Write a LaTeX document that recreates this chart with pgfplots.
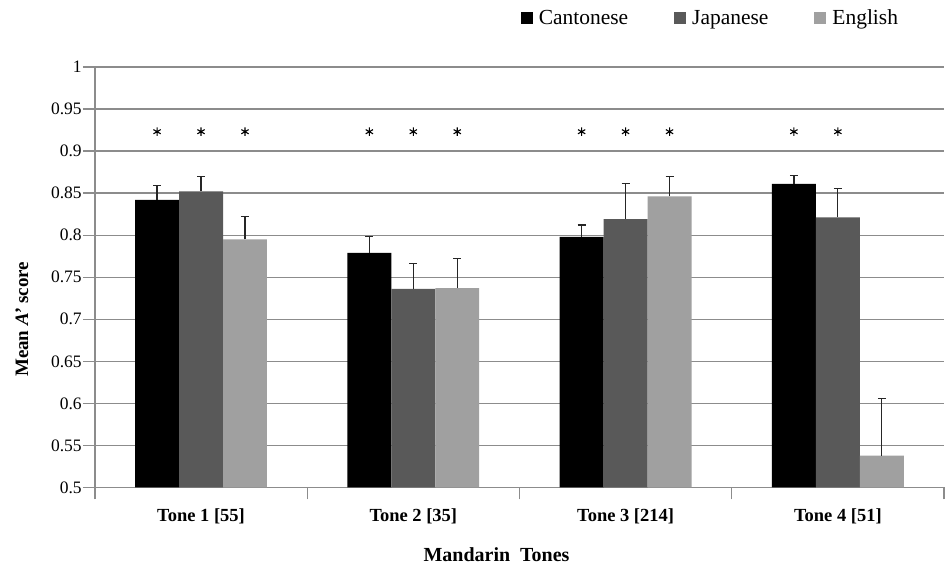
\documentclass[border=0pt]{standalone}
\usepackage{fontspec}
\setmainfont{Liberation Serif}
\usepackage{pgfplots}
\pgfplotsset{compat=1.18}
\definecolor{cjp}{HTML}{595959}
\definecolor{cen}{HTML}{A0A0A0}
\definecolor{gridc}{HTML}{8C8C8C}
\definecolor{errc}{HTML}{262626}
\begin{document}
\begin{tikzpicture}
\begin{axis}[name=ax,
  scale only axis, width=850pt, height=421pt,
  ybar=0pt, bar width=44pt,
  xmin=-0.5, xmax=3.5, ymin=0.5, ymax=1,
  axis x line=bottom, axis y line=left,
  axis line style={-, gridc, line width=1.3pt},
  tick align=outside, major tick length=12pt,
  tick style={gridc, line width=1.3pt},
  ytick={0.5,0.55,0.6,0.65,0.7,0.75,0.8,0.85,0.9,0.95,1},
  yticklabels={0.5,0.55,0.6,0.65,0.7,0.75,0.8,0.85,0.9,0.95,1},
  yticklabel style={font=\fontsize{17.5}{17.5}\selectfont, inner sep=1pt},
  ymajorgrids, major grid style={gridc, line width=1.3pt},
  xtick={-0.5,0.5,1.5,2.5,3.5}, xticklabels={},
  extra x ticks={0,1,2,3},
  extra x tick labels={Tone 1 [55],Tone 2 [35],Tone 3 [214],Tone 4 [51]},
  extra x tick style={major tick length=0pt,
    xticklabel style={font=\bfseries\fontsize{18.5}{18.5}\selectfont, yshift=-18pt}},
  xlabel={Mandarin~ Tones},
  xlabel style={at={(axis description cs:0.473,-0.159)}, anchor=center, font=\bfseries\fontsize{20}{20}\selectfont},
  ylabel={Mean \textit{A'} score},
  ylabel style={at={(axis description cs:-0.086,0.40)}, anchor=center, font=\bfseries\fontsize{19}{19}\selectfont},
  legend columns=3,
  legend style={at={(axis description cs:0.952,1.1164)}, anchor=east, draw=none, fill=none,
    font=\fontsize{21.5}{21.5}\selectfont,
    /tikz/every odd column/.append style={column sep=4pt},
    /tikz/every even column/.append style={column sep=44pt}},
  every axis plot post/.append style={legend image code/.code={\path[#1] (0pt,-6pt) rectangle (12pt,6pt);}},
  error bars/y dir=plus, error bars/y explicit,
  error bars/error mark=-,
  error bars/error bar style={line width=1.2pt, draw=errc},
  error bars/error mark options={line width=1.2pt, mark size=4pt, draw=errc, rotate=90},
]
\addplot[fill=black, draw=none] coordinates {
  (0,0.842) +- (0,0.017)
  (1,0.779) +- (0,0.019)
  (2,0.798) +- (0,0.014)
  (3,0.861) +- (0,0.010)};
\addplot[fill=cjp, draw=none] coordinates {
  (0,0.852) +- (0,0.018)
  (1,0.736) +- (0,0.030)
  (2,0.819) +- (0,0.042)
  (3,0.821) +- (0,0.034)};
\addplot[fill=cen, draw=none] coordinates {
  (0,0.795) +- (0,0.027)
  (1,0.737) +- (0,0.035)
  (2,0.846) +- (0,0.024)
  (3,0.538) +- (0,0.068)};
\legend{Cantonese,Japanese,English}
\addplot[forget plot, only marks, mark=asterisk, mark size=4.2pt, mark options={line width=1.1pt, black}]
  coordinates {(-0.2071,0.923) (0.7929,0.923) (1.7929,0.923) (2.7929,0.923)
               (0,0.923) (1,0.923) (2,0.923) (3,0.923)
               (0.2071,0.923) (1.2071,0.923) (2.2071,0.923)};
\end{axis}
\pgfresetboundingbox
\path[use as bounding box] (ax.south west) ++(-95pt,-80pt) rectangle ([shift={(1pt,67pt)}]ax.north east);
\end{tikzpicture}
\end{document}
